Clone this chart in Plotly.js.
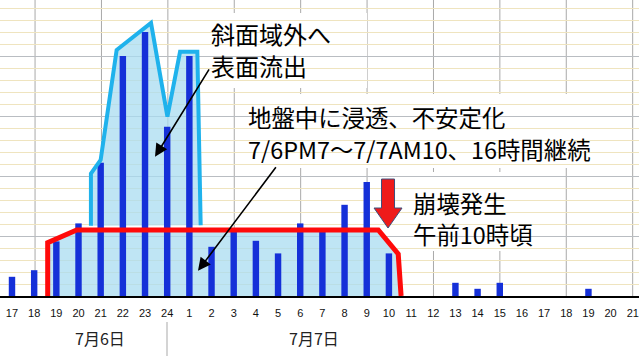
<!DOCTYPE html>
<html>
<head>
<meta charset="utf-8">
<script src="https://cdn.plot.ly/plotly-3.0.1.min.js"></script>
<style>html,body{margin:0;padding:0;background:#fff;}#chart{width:639px;height:356px;}</style>
</head>
<body>
<div id="chart"></div>
<script>
// ---- data ----
var hourLabels = ['17','18','19','20','21','22','23','24','1','2','3','4','5','6','7','8','9','10','11','12','13','14','15','16','17','18','19','20','21'];
var rainfall   = [3.2, 4.3, 9.1, 12.1, 22.2, 40, 44, 28.2, 40, 8.2, 11, 9.2, 7.1, 12.1, 10.8, 15.2, 19, 7.1, 0, 0, 2.2, 1.2, 2.2, 0, 0, 0, 1.2, 0, 0];
var dayLabels  = ['7月6日', '7月7日'];
// infiltration envelope (red) and surface runoff envelope (cyan), in axis units
var infilX = [1.61, 1.61, 2.92, 16.52, 17.42, 17.55];
var infilY = [0, 8.9, 11, 11, 7, 0];
var runoffX = [3.56, 3.56, 4.0, 4.72, 6.27, 7.01, 7.58, 8.36, 8.51];
var runoffY = [11.7, 20.4, 22.7, 41, 45.5, 29.9, 40.7, 40.7, 11.8];
var noteRunoff = ['斜面域外へ', '表面流出'];
var noteInfil  = ['地盤中に浸透、不安定化', '7/6PM7～7/7AM10、16時間継続'];
var noteFail   = ['崩壊発生', '午前10時頃'];

// ---- helpers ----
var W = 639, PB = 296;
function pxX(p){ return p / W; }
function pxY(p){ return (PB - p) / PB; }
var idx = hourLabels.map(function(_, i){ return i; });
function polyPath(xs, ys){
  return xs.map(function(x, i){ return (i ? 'L' : 'M') + x + ',' + ys[i]; }).join(' ') + ' Z';
}

var traces = [
  { type:'bar', x: idx, y: rainfall, width: 0.29, marker:{color:'#1530d8'}, hoverinfo:'skip' },
  { type:'scatter', mode:'lines', x: runoffX, y: runoffY, line:{color:'#1fb2ec', width:4}, hoverinfo:'skip' },
  { type:'scatter', mode:'lines', x: infilX, y: infilY, line:{color:'#ff0a0a', width:5}, hoverinfo:'skip' }
];

var shapes = [];
for (var k = 0; k < 10; k++) {
  var gx = 1.04 + 2.995 * k;
  shapes.push({type:'line', xref:'x', yref:'paper', x0:gx, x1:gx, y0:0, y1:1, line:{color:'#a9a9a9', width:1}, layer:'between'});
}
// white text boxes
[[212,13,367,88],[245,94,620,168],[408,172,565,251]].forEach(function(b){
  shapes.push({type:'rect', xref:'paper', yref:'paper', x0:pxX(b[0]), x1:pxX(b[2]), y0:pxY(b[3]), y1:pxY(b[1]), fillcolor:'#ffffff', line:{width:0}, layer:'between'});
});
// light blue areas
shapes.push({type:'path', xref:'x', yref:'y', path: polyPath(infilX, infilY), fillcolor:'rgba(170,220,240,0.75)', line:{width:0}, layer:'between'});
shapes.push({type:'path', xref:'x', yref:'y', path: polyPath(runoffX, runoffY), fillcolor:'rgba(170,220,240,0.75)', line:{width:0}, layer:'between'});
// red block arrow (failure)
shapes.push({type:'path', xref:'x', yref:'y', xsizemode:'pixel', ysizemode:'pixel', xanchor:16.96, yanchor:11.33,
  path:'M 0 0 L -14 20 L -6.5 20 L -6.5 49 L 6.5 49 L 6.5 20 L 14 20 Z',
  fillcolor:'#ee1a1a', line:{color:'#3d4f7c', width:1}, layer:'above'});
// day separator
shapes.push({type:'line', xref:'paper', yref:'paper', x0:pxX(167), x1:pxX(167), y0:pxY(322), y1:pxY(356), line:{color:'#a9a9a9', width:1}});

var cjk = 'Noto Sans CJK JP, sans-serif';
function noteLine(text, px, py, fs){
  return {xref:'paper', yref:'paper', x:pxX(px), y:pxY(py), xanchor:'left', yanchor:'middle', align:'left',
          showarrow:false, text:text, borderpad:0, borderwidth:0, font:{family:cjk, size:fs, color:'#000'}};
}
var annotations = [
  noteLine(noteRunoff[0], 211, 33, 24), noteLine(noteRunoff[1], 211, 65, 24),
  noteLine(noteInfil[0], 248, 117, 23.4), noteLine(noteInfil[1], 248, 148.5, 23.4),
  noteLine(noteFail[0], 413, 202.5, 23.4), noteLine(noteFail[1], 413, 234, 23.4),
  {xref:'x', yref:'y', x:6.45, y:23.2, text:'', showarrow:true, ax:55, ay:-89, arrowhead:2, arrowsize:1.6, arrowwidth:1.6, arrowcolor:'#000', standoff:0},
  {xref:'x', yref:'y', x:8.39, y:4.2, text:'', showarrow:true, ax:79, ay:-105, arrowhead:2, arrowsize:1.6, arrowwidth:1.6, arrowcolor:'#000', standoff:0},
  {xref:'paper', yref:'paper', x:pxX(100), y:pxY(337.7), xanchor:'center', yanchor:'middle', showarrow:false, text:dayLabels[0], font:{family:cjk, size:16, color:'#222'}},
  {xref:'paper', yref:'paper', x:pxX(314), y:pxY(337.7), xanchor:'center', yanchor:'middle', showarrow:false, text:dayLabels[1], font:{family:cjk, size:16, color:'#222'}}
];

var layout = {
  width: 639, height: 356,
  margin: {l:0, r:0, t:0, b:60, pad:0},
  paper_bgcolor:'#ffffff', plot_bgcolor:'#ffffff',
  showlegend:false,
  xaxis: {range:[-0.541, 28.28], tickmode:'array', tickvals: idx, ticktext: hourLabels, tickangle:0,
          showgrid:false, zeroline:false, showline:true, linecolor:'#000', linewidth:1.5, ticks:'',
          tickfont:{family:'Liberation Sans, Arial, sans-serif', size:11, color:'#111'}, ticklabelstandoff:6, fixedrange:true},
  yaxis: {range:[0, 296/6], tick0:0, dtick:10, showgrid:true, gridcolor:'#b9bdc2', gridwidth:1,
          showticklabels:false, ticks:'', zeroline:false, fixedrange:true,
          minor:{tick0:0, dtick:2, showgrid:true, gridcolor:'#efe4bf', gridwidth:1}},
  shapes: shapes,
  annotations: annotations
};

Plotly.newPlot('chart', traces, layout, {staticPlot:true, displayModeBar:false});
</script>
</body>
</html>
